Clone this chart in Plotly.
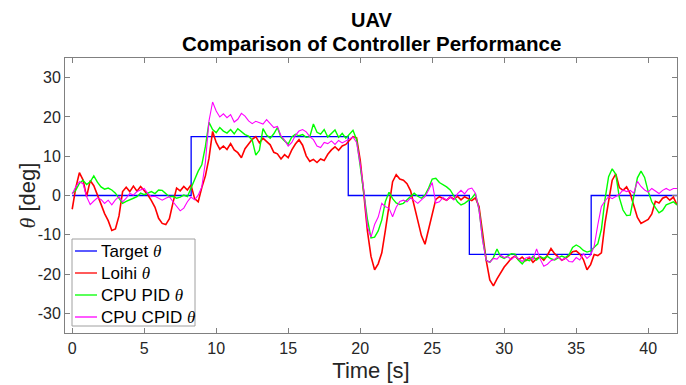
import numpy as np
import plotly.graph_objects as go

# time grid (s), 0.25 s sampling
time_s = [round(i * 0.25, 2) for i in range(169)]

# target step signal
target_t = [0, 8.26, 19.17, 27.58, 36.04, 42]
target_v = [0, 15, 0, -15, 0, 0]

loihi = [
    -3.5, 2.0, 5.8, 4.0, -0.3, 3.8, 2.5, 0.3, -2.2, -4.6, -6.4, -8.9, -8.5, -5.2, 1.0, 2.1,
    1.0, 2.4, 1.1, 2.3, 1.2, 0.2, -1.3, -3.0, -5.8, -7.1, -7.4, -5.9, -1.8, 1.9, 1.2, 2.3,
    1.4, 2.7, -0.8, -1.6, 2.0, 5.0, 9.5, 16.3, 13.5, 11.8, 12.6, 11.7, 13.2, 11.6, 10.9, 9.6,
    11.9, 13.0, 14.3, 15.0, 13.4, 14.6, 13.8, 12.9, 11.0, 10.6, 9.3, 10.4, 9.6, 11.6, 13.1, 14.2,
    12.8, 10.1, 8.7, 9.2, 8.4, 9.3, 8.9, 10.5, 11.6, 12.4, 11.5, 12.6, 13.0, 14.1, 15.0, 14.7,
    9.0, 0.5, -9.0, -15.5, -18.9, -17.4, -14.6, -8.8, -3.2, 3.5, 5.3, 4.2, 3.9, 3.0, 1.2, -2.5,
    -6.6, -10.2, -12.4, -8.7, -4.5, -1.0, -0.3, -0.8, -1.2, -0.4, -0.9, -0.2, -1.1, -0.3, -0.8, -1.3,
    -0.6, -2.8, -9.5, -16.5, -21.5, -23.0, -21.2, -19.5, -18.2, -17.1, -16.0, -15.4, -16.4, -15.7, -16.6, -15.8,
    -17.0, -16.1, -15.6, -16.5, -15.2, -13.5, -14.8, -15.6, -16.5, -16.0, -15.3, -14.3, -14.1, -14.9, -16.3, -18.9,
    -17.6, -15.0, -15.3, -14.6, -7.0, -1.5, 3.9, 5.5, 2.0, 1.3, 2.2, 0.5, -2.8, -5.6, -7.1, -6.5,
    -6.1, -4.7, -1.5, -1.9, -0.7, -0.3, -1.2, -0.4, -2.4,
]

cpu_pid = [
    0.5, 1.4, 3.1, 3.9, 2.8, 3.5, 5.0, 3.4, 2.2, 1.6, 1.9, 1.4, 0.6, -0.6, -2.0, -1.5,
    -1.2, -0.7, -0.3, 0.6, 0.2, 0.6, 1.0, 0.5, 1.4, 1.3, 0.5, -0.3, -0.2, -0.7, -0.4, 0.1,
    -0.3, 1.8, 3.7, 6.2, 7.8, 12.5, 18.6, 16.8, 16.0, 17.3, 16.4, 15.9, 16.8, 15.7, 17.0, 16.2,
    15.5, 15.1, 14.1, 10.3, 11.5, 17.0, 15.4, 14.6, 15.7, 17.3, 14.8, 13.9, 13.1, 14.9, 15.6, 15.2,
    15.5, 14.8, 15.0, 18.2, 16.1, 15.6, 16.8, 14.9, 15.7, 16.7, 14.8, 15.8, 14.6, 15.6, 16.6, 14.2,
    7.5, 1.5, -6.0, -10.8, -10.6, -9.0, -6.2, -1.5, 0.8, -0.8, -1.9, -2.3, -2.0, -1.1, -0.3, 0.6,
    -0.2, -0.7, 0.1, 1.9, 4.2, 4.4, 3.3, 2.8, 2.2, 1.4, -0.3, -1.6, -2.4, -2.0, -1.3, -0.7,
    0.5, -3.5, -11.0, -16.5, -17.0, -15.8, -13.6, -15.6, -16.0, -15.5, -14.8, -14.9, -16.5, -17.4, -16.3, -16.6,
    -15.5, -16.4, -15.6, -16.0, -15.5, -16.1, -16.4, -15.9, -15.4, -15.8, -15.1, -13.2, -12.6, -13.1, -14.0, -14.4,
    -14.1, -13.2, -12.3, -8.6, -1.0, 4.8, 6.8, 5.4, -0.6, -3.7, -5.1, -5.0, -0.4, 4.5, 6.2, 4.6,
    1.0, -1.6, -3.1, -4.4, -3.8, -2.4, -2.0, -1.6, -2.4,
]

cpu_cpid = [
    0.4, 2.2, 3.5, 3.0, -0.3, -2.3, -1.4, -0.6, -1.0, -2.0, -1.2, -2.4, -1.1, -0.3, -1.6, -0.7,
    0.5, 0.1, 1.0, 1.4, 1.8, 0.5, -0.3, -0.2, -0.8, -1.2, -0.7, -0.3, -1.6, -2.8, -3.9, -3.2,
    -1.6, -0.4, -1.1, 0.1, 2.2, 8.5, 19.0, 23.8, 21.5, 20.0, 20.8, 19.8, 20.6, 18.7, 19.4, 20.9,
    20.2, 19.0, 18.3, 18.9, 18.6, 18.2, 19.3, 18.4, 17.3, 17.6, 15.2, 14.1, 12.6, 13.5, 15.3, 16.4,
    16.8, 16.2, 15.0, 14.2, 12.6, 12.2, 13.5, 13.2, 13.9, 13.0, 14.0, 13.4, 14.0, 14.4, 14.9, 13.5,
    8.0, 1.4, -8.0, -10.6, -7.4, -5.5, -2.0, -2.9, -3.2, -5.4, -3.0, -1.5, -1.2, -1.6, -0.6, -1.2,
    -2.0, -1.1, -0.3, 1.4, 3.3, -1.9, -1.6, -0.5, -1.2, -0.4, -1.1, 0.4, 1.3, 0.4, 1.6, 1.9,
    0.6, -3.6, -11.5, -16.5, -17.0, -16.0, -16.2, -15.2, -15.8, -15.6, -16.3, -15.4, -16.0, -16.8, -15.9, -15.6,
    -16.3, -13.6, -16.2, -18.0, -17.5, -16.6, -16.2, -15.6, -16.5, -15.9, -16.8, -16.9, -15.8, -16.4, -14.8, -16.0,
    -15.2, -12.9, -7.5, -2.8, -1.4, -0.3, -0.8, -0.2, 0.3, 1.4, 1.0, 1.3, 0.6, 3.6, 2.3, 1.4,
    0.9, 1.8, 1.1, 0.5, 1.3, 1.8, 1.3, 1.8, 1.8,
]

x_ticks = [0, 5, 10, 15, 20, 25, 30, 35, 40]
x_ticklabels = ["0", "5", "10", "15", "20", "25", "30", "35", "40"]
y_ticks = [-30, -20, -10, 0, 10, 20, 30]
y_ticklabels = ["-30", "-20", "-10", "0", "10", "20", "30"]

TH = "<span style=\"font-family:'Liberation Serif';font-style:italic\">θ</span>"
FONT = "Liberation Sans"

series_names = ["Target " + TH, "Loihi " + TH, "CPU PID " + TH, "CPU CPID " + TH]
series_colors = ["#0000FF", "#FF0000", "#00FF00", "#FF00FF"]
series_widths = [1.3, 1.6, 1.4, 1.1]

fig = go.Figure()
fig.add_trace(go.Scatter(x=target_t, y=target_v, mode="lines", line_shape="hv",
                         line=dict(color=series_colors[0], width=series_widths[0]),
                         name=series_names[0], showlegend=False))
for vals, nm, col, w in zip([loihi, cpu_pid, cpu_cpid], series_names[1:], series_colors[1:], series_widths[1:]):
    fig.add_trace(go.Scatter(x=time_s, y=vals, mode="lines", line=dict(color=col, width=w),
                             name=nm, showlegend=False))

axis_common = dict(showline=True, linecolor="#808080", linewidth=1, mirror="ticks",
                   ticks="inside", ticklen=5, tickcolor="#808080", showgrid=False,
                   zeroline=False, automargin=False,
                   tickfont=dict(family=FONT, size=16, color="#262626"))

# plot area in window px: x 65..677, y 58..333
def px(X):
    return (X - 65) / 612.0

def py(Y):
    return (333 - Y) / 275.0

shapes = [dict(type="rect", xref="paper", yref="paper", x0=px(72), x1=px(195), y0=py(326), y1=py(239),
               fillcolor="white", line=dict(color="#a0a0a0", width=1), layer="above")]
annotations = [
    dict(text="<b>UAV</b>", x=0.5, y=py(20), xref="paper", yref="paper",
         xanchor="center", yanchor="middle", showarrow=False,
         font=dict(family=FONT, size=20, color="black")),
    dict(text="<b>Comparison of Controller Performance</b>", x=0.5, y=py(43),
         xref="paper", yref="paper", xanchor="center", yanchor="middle", showarrow=False,
         font=dict(family=FONT, size=20.5, color="black")),
    dict(text=TH + " [deg]", x=px(27), y=0.5, xref="paper", yref="paper", textangle=-90,
         xanchor="center", yanchor="middle", showarrow=False,
         font=dict(family=FONT, size=22, color="#262626")),
]
legend_rows = [251, 273, 295, 317]
for Y, nm, col in zip(legend_rows, series_names, series_colors):
    shapes.append(dict(type="line", xref="paper", yref="paper", x0=px(75), x1=px(97), y0=py(Y), y1=py(Y),
                       line=dict(color=col, width=1.3), layer="above"))
    annotations.append(dict(text=nm, x=px(99), y=py(Y), xref="paper", yref="paper",
                            xanchor="left", yanchor="middle", showarrow=False,
                            font=dict(family=FONT, size=17, color="black")))

# page body has an 8px default margin: figure is sized to fit the 686x385 window
fig.update_layout(
    width=678, height=377,
    margin=dict(l=57, r=9, t=50, b=52),
    paper_bgcolor="white", plot_bgcolor="white",
    xaxis=dict(range=[-0.5, 42], tickvals=x_ticks, ticktext=x_ticklabels, ticklabelstandoff=1,
               title=dict(text="Time [s]", font=dict(family=FONT, size=22, color="#262626"), standoff=6),
               **axis_common),
    yaxis=dict(range=[-35, 35], tickvals=y_ticks, ticktext=y_ticklabels, **axis_common),
    showlegend=False,
    shapes=shapes,
    annotations=annotations,
)

fig.write_html("out.html")
